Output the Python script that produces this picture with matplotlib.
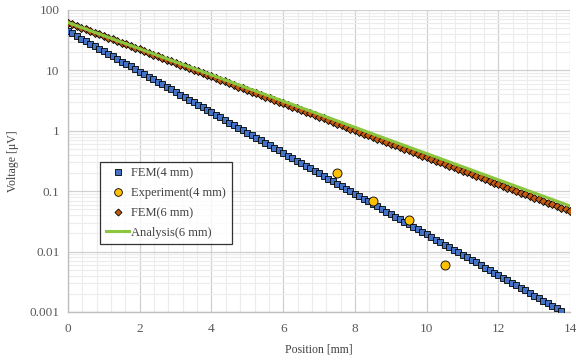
"""
voltage decay along position: FEM vs experiment vs analysis (log scale)
"""
import numpy as np
import matplotlib
matplotlib.use("Agg")
import matplotlib.pyplot as plt
from matplotlib.ticker import FixedLocator, FuncFormatter, MultipleLocator

# FEM nodes every 0.125 mm
fem4_pos = np.arange(0, 13.76, 0.125)
fem4_volt = [
    45.0, 40.8, 37.1, 33.6, 30.5, 27.7, 25.1, 22.8,
    20.7, 18.8, 17.1, 15.5, 14.0, 12.8, 11.6, 10.5,
    9.54, 8.65, 7.85, 7.13, 6.47, 5.87, 5.33, 4.84,
    4.39, 3.98, 3.61, 3.28, 2.98, 2.70, 2.45, 2.23,
    2.02, 1.83, 1.66, 1.51, 1.37, 1.24, 1.13, 1.02,
    0.930, 0.844, 0.766, 0.695, 0.631, 0.573, 0.520, 0.472,
    0.428, 0.389, 0.353, 0.320, 0.290, 0.264, 0.239, 0.217,
    0.197, 0.179, 0.162, 0.147, 0.134, 0.121, 0.110, 0.0999,
    0.0907, 0.0823, 0.0747, 0.0678, 0.0615, 0.0558, 0.0507, 0.0460,
    0.0418, 0.0379, 0.0344, 0.0312, 0.0283, 0.0257, 0.0233, 0.0212,
    0.0192, 0.0174, 0.0158, 0.0144, 0.0130, 0.0118, 0.0107, 0.00975,
    0.00885, 0.00803, 0.00729, 0.00661, 0.00600, 0.00545, 0.00494, 0.00449,
    0.00407, 0.00370, 0.00335, 0.00304, 0.00276, 0.00251, 0.00228, 0.00206,
    0.00187, 0.00170, 0.00154, 0.00140, 0.00127, 0.00115, 0.00105,
]

exp4_pos = [7.5, 8.5, 9.5, 10.5]
exp4_volt = [0.20, 0.068, 0.033, 0.006]

fem6_pos = np.arange(0, 14.01, 0.125)
fem6_volt = [
    62.0, 58.1, 54.5, 51.1, 48.0, 45.0, 42.2, 39.6,
    37.1, 34.8, 32.6, 30.6, 28.7, 26.9, 25.2, 23.7,
    22.2, 20.8, 19.5, 18.3, 17.2, 16.1, 15.1, 14.2,
    13.3, 12.5, 11.7, 11.0, 10.3, 9.64, 9.04, 8.48,
    7.95, 7.46, 6.99, 6.56, 6.15, 5.77, 5.41, 5.07,
    4.76, 4.46, 4.18, 3.92, 3.68, 3.45, 3.24, 3.04,
    2.85, 2.67, 2.50, 2.35, 2.20, 2.07, 1.94, 1.82,
    1.70, 1.60, 1.50, 1.41, 1.32, 1.24, 1.16, 1.09,
    1.02, 0.956, 0.897, 0.841, 0.789, 0.740, 0.694, 0.651,
    0.610, 0.572, 0.537, 0.503, 0.472, 0.443, 0.415, 0.389,
    0.365, 0.342, 0.321, 0.301, 0.282, 0.265, 0.248, 0.233,
    0.219, 0.205, 0.192, 0.180, 0.169, 0.159, 0.149, 0.139,
    0.131, 0.123, 0.115, 0.108, 0.101, 0.0948, 0.0889, 0.0834,
    0.0782, 0.0734, 0.0688, 0.0645, 0.0605, 0.0567, 0.0532, 0.0499,
    0.0468,
]

ana6_pos = [0, 1, 2, 3, 4, 5, 6, 7, 8, 9, 10, 11, 12, 13, 14]
ana6_volt = [62.0, 37.6, 22.8, 13.8, 8.40, 5.10, 3.09, 1.88, 1.14,
             0.690, 0.419, 0.254, 0.154, 0.0935, 0.0567]

x_ticks = [0, 2, 4, 6, 8, 10, 12, 14]
y_ticks = [0.001, 0.01, 0.1, 1, 10, 100]
y_labels = ["0.001", "0.01", "0.1", "1", "10", "100"]

plt.rcParams['font.family'] = ['Liberation Serif', 'DejaVu Serif']

fig = plt.figure(figsize=(5.76, 3.63), dpi=100)
ax = fig.add_axes([0.118, 0.1405, 0.872, 0.832])

ax.plot(fem4_pos, fem4_volt, 's', ms=4.8, mfc='#4472C4', mec='black', mew=0.6,
        label='FEM(4 mm)', zorder=3)
ax.plot(exp4_pos, exp4_volt, 'o', ms=6.5, mfc='#FFC000', mec='black', mew=0.6,
        label='Experiment(4 mm)', zorder=5)
ax.plot(fem6_pos, fem6_volt, 'D', ms=4.2, mfc='#C55A11', mec='black', mew=0.6,
        label='FEM(6 mm)', zorder=3)
ax.plot(ana6_pos, ana6_volt, '-', color='#8CC63F', lw=2.2,
        label='Analysis(6 mm)', zorder=4)

ax.set_yscale('log')
ax.set_xlim(0, 14)
ax.set_ylim(0.001, 100)
ax.xaxis.set_major_locator(FixedLocator(x_ticks))
ax.xaxis.set_minor_locator(MultipleLocator(0.4))
ax.yaxis.set_major_locator(FixedLocator(y_ticks))
ax.yaxis.set_major_formatter(FuncFormatter(lambda v, p: y_labels[y_ticks.index(v)] if v in y_ticks else ""))

ax.grid(True, which='major', color='#d0d0d0', lw=0.9)
ax.grid(True, which='minor', color='#ececec', lw=0.8)
ax.set_axisbelow(True)
for s in ['top', 'right']:
    ax.spines[s].set_visible(False)
for s in ['left', 'bottom']:
    ax.spines[s].set_color('#bfbfbf')
    ax.spines[s].set_linewidth(1.0)
ax.tick_params(which='both', length=0, labelsize=9.5, colors='#595959', pad=6)
ax.tick_params(axis='x', pad=8)

ax.set_xlabel('Position [mm]', fontsize=8.5, color='#404040', labelpad=6)
ax.set_ylabel('Voltage [μV]', fontsize=8.5, color='#404040', labelpad=8)

leg = ax.legend(loc='upper left', bbox_to_anchor=(0.064, 0.497), fontsize=9,
                frameon=True, fancybox=False, edgecolor='black',
                labelcolor='#404040', handlelength=1.9, handletextpad=0.15,
                borderpad=0.45, labelspacing=0.62, borderaxespad=0,
                markerscale=0.85)
leg.get_frame().set_linewidth(0.9)

fig.savefig('out.png', dpi=100)
